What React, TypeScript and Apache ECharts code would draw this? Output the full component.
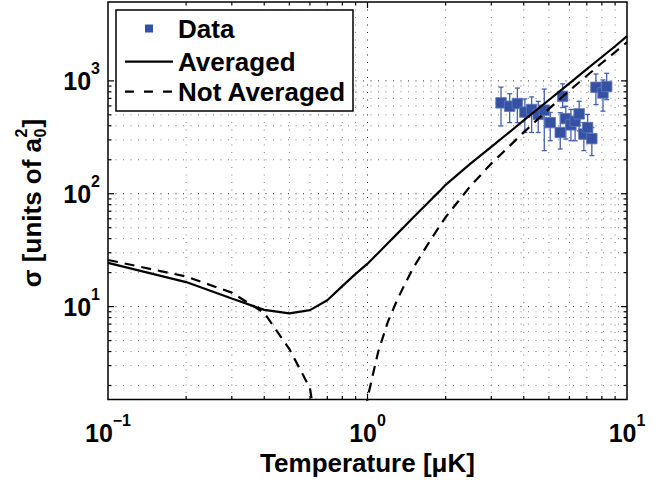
import React, { useEffect, useRef } from 'react';
import * as echarts from 'echarts';

// ---- data ----
const temperature = [0.1, 0.2, 0.3, 0.4, 0.5, 0.6, 0.7, 0.8, 0.9, 1.0, 1.1, 1.2, 1.3, 1.4, 1.5, 1.6, 1.7, 1.8, 1.9, 2.0, 2.5, 3, 4, 5, 6, 7, 8, 9, 10];
const averaged = [24.4, 16.5, 11.8, 9.35, 8.7, 9.3, 11.4, 15.2, 19.5, 24, 29.9, 36.6, 44.1, 52.4, 61.5, 71.4, 82.1, 93.8, 106, 120, 186, 260, 446, 677, 952, 1269, 1628, 2027, 2490];
const notAveraged = [25.9, 18.5, 13.3, 8.8, 4.2, 1.9, 0.2, 0.05, 0.2, 1.55, 4.0, 7.4, 11.4, 16.2, 22, 28, 35, 43, 52, 62, 118, 185, 350, 565, 820, 1110, 1440, 1800, 2200];

const dataT = [3.27, 3.53, 3.78, 4.04, 4.29, 4.55, 4.80, 5.06, 5.53, 5.65, 5.81, 6.08, 6.31, 6.54, 6.82, 7.05, 7.32, 7.59, 8.08, 8.35];
const dataSigma = [639, 596, 630, 529, 558, 505, 550, 427, 349, 729, 463, 408, 439, 510, 338, 386, 308, 877, 781, 891];
const dataLow = [399, 427, 427, 349, 349, 349, 241, 295, 249, 581, 305, 295, 295, 361, 241, 305, 218, 617, 539, 682];
const dataHigh = [881, 770, 864, 692, 721, 659, 846, 525, 522, 942, 596, 558, 558, 659, 427, 505, 386, 1151, 1020, 1167];

const xMinorTicks = [0.2, 0.3, 0.4, 0.5, 0.6, 0.7, 0.8, 0.9, 2, 3, 4, 5, 6, 7, 8, 9];
const xMajorTicks = [1];
const yMinorTicks = [2, 3, 4, 5, 6, 7, 8, 9, 20, 30, 40, 50, 60, 70, 80, 90, 200, 300, 400, 500, 600, 700, 800, 900];
const yMajorTicks = [10, 100, 1000];

const legendNames = ['Data', 'Averaged', 'Not Averaged'];
const xTitle = 'Temperature [μK]';
const yTitleMain = 'σ [units of a';
const yTitleSup = '2';
const yTitleSub = '0';
const yTitleEnd = ']';

const FONT = '"Liberation Sans", Arial, Helvetica, sans-serif';
const BLUE = '#3551a4';
const BAR_BLUE = '#4660ae';

function powLabel(v: number): string {
  const e = Math.log10(v);
  const r = Math.round(e);
  if (Math.abs(e - r) > 1e-6) return '';
  const exp = r < 0 ? '−' + Math.abs(r) : String(r);
  return '{b|10}{s|' + exp + '}';
}

const labelRich = {
  b: { fontSize: 25, fontWeight: 'bold', fontFamily: FONT, color: '#000', lineHeight: 40 },
  s: { fontSize: 16, fontWeight: 'bold', fontFamily: FONT, color: '#000', lineHeight: 16, verticalAlign: 'top' },
};

export default function App() {
  const ref = useRef<HTMLDivElement>(null);
  useEffect(() => {
    if (!ref.current) return;
    const chart = echarts.init(ref.current, undefined, { renderer: 'svg' });

    const ctx = document.createElement('canvas').getContext('2d')!;
    ctx.font = 'bold 26px ' + FONT;
    const w1 = ctx.measureText(yTitleMain).width;
    const wEnd = ctx.measureText(yTitleEnd).width;
    ctx.font = 'bold 16px ' + FONT;
    const wSup = ctx.measureText(yTitleSup).width;
    const total = w1 + wSup + 1.5 + wEnd;
    const start = -total / 2;

    const decorRows = [
      ...xMinorTicks.map((v) => [v, 10, 0, 0]),
      ...xMajorTicks.map((v) => [v, 10, 0, 1]),
      ...yMinorTicks.map((v) => [1, v, 1, 0]),
      ...yMajorTicks.map((v) => [1, v, 1, 1]),
    ];

    const option: any = {
      animation: false,
      backgroundColor: '#fff',
      grid: { left: 108, right: 42, top: 2, bottom: 77, show: true, borderColor: '#000', borderWidth: 1.5, backgroundColor: 'transparent' },
      xAxis: {
        type: 'log', logBase: 10, min: 0.1, max: 10,
        axisLine: { show: false }, axisTick: { show: false }, splitLine: { show: false },
        axisLabel: { formatter: powLabel, rich: labelRich, margin: 13, showMinLabel: true, showMaxLabel: true, color: '#000' },
        name: xTitle, nameLocation: 'middle', nameGap: 42,
        nameTextStyle: { fontSize: 26, fontWeight: 'bold', fontFamily: FONT, color: '#000' },
      },
      yAxis: {
        type: 'log', logBase: 10, min: 1.5, max: 5000,
        axisLine: { show: false }, axisTick: { show: false }, splitLine: { show: false },
        axisLabel: { formatter: powLabel, rich: labelRich, margin: 8, color: '#000' },
      },
      series: [
        {
          type: 'custom', name: 'decor', silent: true, z: 1,
          data: decorRows, encode: { x: 0, y: 1 },
          renderItem: (params: any, api: any) => {
            const cs = params.coordSys;
            const p = api.coord([api.value(0), api.value(1)]);
            const isY = api.value(2) === 1;
            const major = api.value(3) === 1;
            const len = major ? 6 : 3.5;
            const gridStyle = { stroke: major ? '#222' : '#808080', lineWidth: 1, lineDash: [1, 6.5], fill: null };
            const tickStyle = { stroke: '#000', lineWidth: 1.2, fill: null };
            if (!isY) {
              const x = p[0];
              const y0 = cs.y, y1 = cs.y + cs.height;
              return {
                type: 'group', children: [
                  { type: 'line', shape: { x1: x, y1: y0, x2: x, y2: y1 }, style: gridStyle },
                  { type: 'line', shape: { x1: x, y1: y1, x2: x, y2: y1 - len }, style: tickStyle },
                  { type: 'line', shape: { x1: x, y1: y0, x2: x, y2: y0 + len }, style: tickStyle },
                ],
              };
            }
            const y = p[1];
            const x0 = cs.x, x1 = cs.x + cs.width;
            return {
              type: 'group', children: [
                { type: 'line', shape: { x1: x0, y1: y, x2: x1, y2: y }, style: gridStyle },
                { type: 'line', shape: { x1: x0, y1: y, x2: x0 + len, y2: y }, style: tickStyle },
                { type: 'line', shape: { x1: x1, y1: y, x2: x1 - len, y2: y }, style: tickStyle },
              ],
            };
          },
        },
        {
          type: 'custom', name: 'errorbars', silent: true, z: 2,
          data: dataT.map((t, i) => [t, dataLow[i], dataHigh[i]]),
          encode: { x: 0, y: [1, 2] },
          renderItem: (params: any, api: any) => {
            const t = api.value(0);
            const lo = api.coord([t, api.value(1)]);
            const hi = api.coord([t, api.value(2)]);
            const w = 2.5;
            const style = { stroke: BAR_BLUE, lineWidth: 1.3, fill: null };
            return {
              type: 'group', children: [
                { type: 'line', shape: { x1: lo[0], y1: lo[1], x2: hi[0], y2: hi[1] }, style },
                { type: 'line', shape: { x1: lo[0] - w, y1: lo[1], x2: lo[0] + w, y2: lo[1] }, style },
                { type: 'line', shape: { x1: hi[0] - w, y1: hi[1], x2: hi[0] + w, y2: hi[1] }, style },
              ],
            };
          },
        },
        {
          type: 'scatter', name: legendNames[0], z: 3,
          symbol: 'rect', symbolSize: 10.5,
          itemStyle: { color: BLUE, borderColor: '#6178b8', borderWidth: 0.8, opacity: 1 },
          data: dataT.map((t, i) => [t, dataSigma[i]]),
        },
        {
          type: 'line', name: legendNames[1], z: 4, showSymbol: false, symbol: 'none',
          lineStyle: { color: '#000', width: 2.2 },
          data: temperature.map((t, i) => [t, averaged[i]]),
        },
        {
          type: 'line', name: legendNames[2], z: 4, showSymbol: false, symbol: 'none',
          lineStyle: { color: '#000', width: 2.2, type: [10, 7] },
          data: temperature.map((t, i) => [t, notAveraged[i]]),
        },
      ],
      graphic: [
        { type: 'rect', z: 100, shape: { x: 116, y: 10, width: 237, height: 101 }, style: { fill: '#fff', stroke: '#000', lineWidth: 1.5 } },
        { type: 'rect', z: 101, shape: { x: 145, y: 24.5, width: 8, height: 8 }, style: { fill: BLUE } },
        { type: 'text', z: 101, x: 178, y: 29, style: { text: legendNames[0], font: 'bold 26px ' + FONT, fill: '#000', align: 'left', verticalAlign: 'middle' } },
        { type: 'line', z: 101, shape: { x1: 125, y1: 61.7, x2: 173, y2: 61.7 }, style: { stroke: '#000', lineWidth: 2.2 } },
        { type: 'text', z: 101, x: 178, y: 61.5, style: { text: legendNames[1], font: 'bold 26px ' + FONT, fill: '#000', align: 'left', verticalAlign: 'middle' } },
        { type: 'line', z: 101, shape: { x1: 125, y1: 91.7, x2: 173, y2: 91.7 }, style: { stroke: '#000', lineWidth: 2.2, lineDash: [9, 10] } },
        { type: 'text', z: 101, x: 178, y: 91.5, style: { text: legendNames[2], font: 'bold 26px ' + FONT, fill: '#000', align: 'left', verticalAlign: 'middle' } },
        {
          type: 'group', z: 101, x: 32, y: 203, rotation: Math.PI / 2,
          children: [
            { type: 'text', x: start, y: 0, style: { text: yTitleMain, font: 'bold 26px ' + FONT, fill: '#000', align: 'left', verticalAlign: 'middle' } },
            { type: 'text', x: start + w1 + 0.5, y: -11, style: { text: yTitleSup, font: 'bold 16px ' + FONT, fill: '#000', align: 'left', verticalAlign: 'middle' } },
            { type: 'text', x: start + w1 + 0.5, y: 8, style: { text: yTitleSub, font: 'bold 16px ' + FONT, fill: '#000', align: 'left', verticalAlign: 'middle' } },
            { type: 'text', x: start + w1 + wSup + 1.5, y: 0, style: { text: yTitleEnd, font: 'bold 26px ' + FONT, fill: '#000', align: 'left', verticalAlign: 'middle' } },
          ],
        },
      ],
    };
    chart.setOption(option);
    return () => chart.dispose();
  }, []);
  return <div ref={ref} style={{ position: 'fixed', left: 0, top: 0, width: 669, height: 481, background: '#fff' }} />;
}
